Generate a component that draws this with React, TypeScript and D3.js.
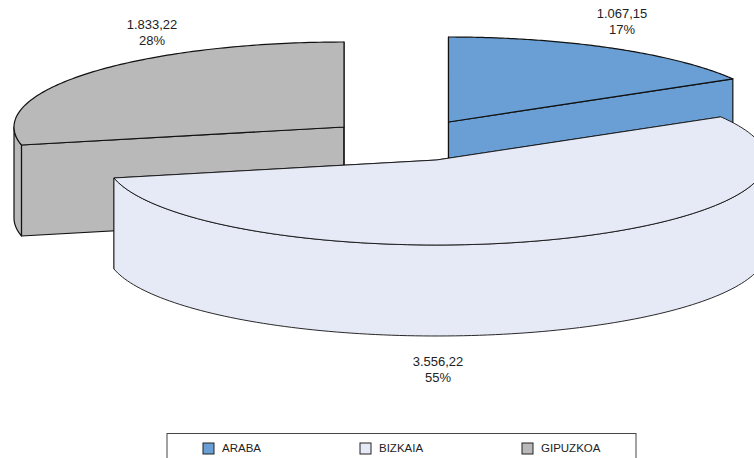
import React from "react";
import * as d3 from "d3";

const categories = ["ARABA", "BIZKAIA", "GIPUZKOA"];
const values = [1067.15, 3556.22, 1833.22];
const valueLabels = ["1.067,15", "3.556,22", "1.833,22"];
const percentLabels = ["17%", "55%", "28%"];
const colors = ["#6A9FD5", "#E6EAF6", "#B9B9B9"];
const centers = [[448.5, 122], [436.5, 160], [344, 127]];
const labelPositions = [[622, 18], [438, 366], [152, 29]];
const legendX = [203, 360, 522];
const drawOrder = [2, 0, 1];

const RX = 330, RY = 85, DEPTH = 91;
const W = 754, H = 458;
const FONT = "'Liberation Sans', Arial, sans-serif";
const INK = "#111";

const slices = d3.pie<number>().sort(null).value((d) => d)(values);

function pt(i: number, t: number, dz = 0): [number, number] {
  const [cx, cy] = centers[i];
  return [cx + RX * Math.sin(t), cy - RY * Math.cos(t) + dz];
}
function arcPts(i: number, a: number, b: number, dz = 0): [number, number][] {
  const n = 120;
  return d3.range(n + 1).map((k) => pt(i, a + ((b - a) * k) / n, dz));
}
const line = d3.line();

function Slice({ i }: { i: number }) {
  const s = slices[i];
  const [cx, cy] = centers[i];
  const a = s.startAngle, b = s.endAngle;
  const top = [[cx, cy] as [number, number], ...arcPts(i, a, b)];
  const topPath = line(top) + "Z";
  // Outer wall: only the part of the rim that faces the viewer
  const wa = Math.max(a, Math.PI / 2);
  const wb = Math.min(b, (3 * Math.PI) / 2);
  const wall = wa < wb
    ? line([...arcPts(i, wa, wb), ...arcPts(i, wa, wb, DEPTH).reverse()]) + "Z"
    : null;
  // Cut faces
  const face = (t: number) =>
    line([[cx, cy], pt(i, t), pt(i, t, DEPTH), [cx, cy + DEPTH]]) + "Z";
  const sw = i === 1 ? 0.9 : 1.2;
  const common = { fill: colors[i], stroke: INK, strokeWidth: sw, strokeLinejoin: "round" as const };
  return (
    <g>
      <path d={face(a)} {...common} />
      <path d={face(b)} {...common} />
      {wall && <path d={wall} {...common} />}
      <path d={topPath} {...common} />
    </g>
  );
}

export default function App() {
  return (
    <svg
      width={W}
      height={H}
      viewBox={`0 0 ${W} ${H}`}
      style={{ position: "absolute", left: 0, top: 0, background: "#fff" }}
      fontFamily={FONT}
    >
      {drawOrder.map((i) => <Slice key={categories[i]} i={i} />)}
      {categories.map((c, i) => (
        <text key={c} textAnchor="middle" fontSize={13} fill="#222">
          <tspan x={labelPositions[i][0]} y={labelPositions[i][1]}>{valueLabels[i]}</tspan>
          <tspan x={labelPositions[i][0]} y={labelPositions[i][1] + 16}>{percentLabels[i]}</tspan>
        </text>
      ))}
      <rect x={167} y={433.5} width={469} height={30} fill="#fff" stroke="#444" strokeWidth={1} />
      {categories.map((c, i) => (
        <g key={c}>
          <rect x={legendX[i]} y={443} width={11} height={11} fill={colors[i]} stroke="#222" strokeWidth={1} />
          <text x={legendX[i] + 19} y={452} fontSize={11.5} fill="#222">{c}</text>
        </g>
      ))}
    </svg>
  );
}
